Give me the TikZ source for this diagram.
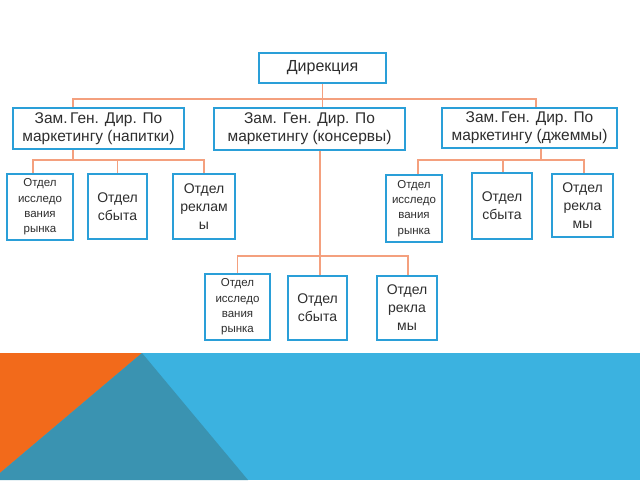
\documentclass[tikz,border=0pt]{standalone}
\usepackage{fontspec}
\setmainfont{Liberation Sans}
\definecolor{boxblue}{HTML}{2A9FD8}
\definecolor{linkorange}{HTML}{F4A07E}
\definecolor{textgray}{HTML}{2E2E2E}
\definecolor{bandblue}{HTML}{3BB2E0}
\definecolor{bandorange}{HTML}{F26A1B}
\definecolor{bandteal}{HTML}{3A93B1}
\begin{document}
\begin{tikzpicture}[x=1pt,y=-1pt]
\tikzstyle{every node}+=[inner sep=0pt, text=textgray]
\tikzstyle{unit}=[draw=boxblue, line width=1.8pt, fill=white, align=center]
\tikzstyle{link}=[draw=linkorange, line width=1.2pt]
\tikzstyle{big}=[font=\fontsize{14}{18}\selectfont]
\tikzstyle{head}=[font=\fontsize{15.5}{18}\selectfont]
\tikzstyle{small}=[font=\fontsize{11.5}{15.3}\selectfont]
\useasboundingbox (0,0) rectangle (640,480);
% bottom band
\fill [bandblue] (0,353) rectangle (640,480);
\fill [bandorange] (0,353) -- (142,353) -- (0,473) -- cycle;
\fill [bandteal] (142,353) -- (248,480) -- (0,480) -- (0,473) -- cycle;
% top
\node [unit, font=\fontsize{16}{18}\selectfont, minimum width=127pt, minimum height=30pt] (dir) at (322.5,68) {Дирекция};
\node [unit, head, minimum width=171pt, minimum height=41pt] (z1) at (98.5,128.5) {Зам.\,Ген. Дир. По\\маркетингу (напитки)};
\node [unit, head, minimum width=191pt, minimum height=42pt] (z2) at (309.5,129) {Зам. Ген. Дир. По\\маркетингу (консервы)};
\node [unit, head, minimum width=175pt, minimum height=40pt] (z3) at (529.5,128) {Зам.\,Ген. Дир. По\\маркетингу (джеммы)};
% left group
\node [unit, small, minimum width=66pt, minimum height=66pt] (a1) at (40,207) {Отдел\\исследо\\вания\\рынка};
\node [unit, big, minimum width=59pt, minimum height=65pt] (a2) at (117.5,206.5) {Отдел\\сбыта};
\node [unit, big, minimum width=62pt, minimum height=65pt] (a3) at (204,206.5) {Отдел\\реклам\\ы};
% right group
\node [unit, small, minimum width=56pt, minimum height=67pt] (b1) at (414,208.5) {Отдел\\исследо\\вания\\рынка};
\node [unit, big, minimum width=60pt, minimum height=66pt] (b2) at (502,206) {Отдел\\сбыта};
\node [unit, big, minimum width=61pt, minimum height=63pt] (b3) at (582.5,205.5) {Отдел\\рекла\\мы};
% middle group
\node [unit, small, minimum width=65pt, minimum height=66pt] (c1) at (237.5,307) {Отдел\\исследо\\вания\\рынка};
\node [unit, big, minimum width=59pt, minimum height=64pt] (c2) at (317.5,308) {Отдел\\сбыта};
\node [unit, big, minimum width=60pt, minimum height=64pt] (c3) at (407,308) {Отдел\\рекла\\мы};
% links
\draw [link] (dir.south) -- ++(0,15) coordinate (bus0);
\draw [link] ([xshift=-25.5pt]z1.north) |- (bus0) -| ([xshift=6.5pt]z3.north);
\draw [link] (bus0) -- (bus0 |- z2.north);
\draw [link] ([xshift=-25.5pt]z1.south) -- ++(0,10) coordinate (busA);
\draw [link] ([xshift=-7pt]a1.north) |- (a3.north |- busA) -- (a3.north);
\draw [link] (a2.north) -- (a2.north |- busA);
\draw [link] ([xshift=11.5pt]z3.south) -- ++(0,11) coordinate (busB);
\draw [link] ([xshift=4pt]b1.north) |- ([xshift=1.5pt]b3.north |- busB) -- ([xshift=1.5pt]b3.north);
\draw [link] ([xshift=1pt]b2.north) -- ([xshift=1pt]b2.north |- busB);
\draw [link] ([xshift=10.5pt]z2.south) -- ++(0,105) coordinate (busC);
\draw [link] (c1.north) |- ([xshift=1pt]c3.north |- busC) -- ([xshift=1pt]c3.north);
\draw [link] (busC) -- (busC |- c2.north);
\end{tikzpicture}
\end{document}
